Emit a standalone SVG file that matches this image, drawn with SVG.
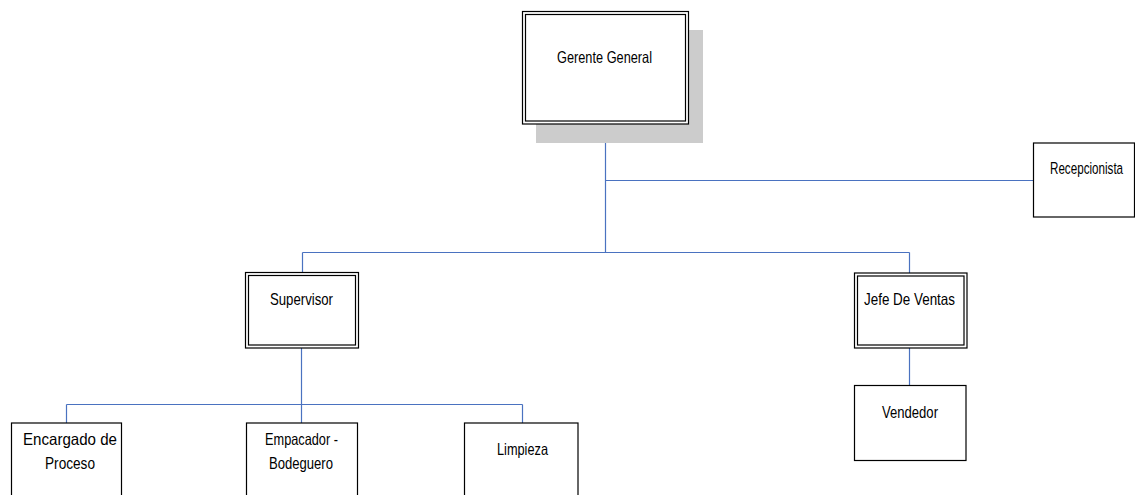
<svg xmlns="http://www.w3.org/2000/svg" width="1135" height="495" viewBox="0 0 1135 495">
<style>
.box{fill:#fff;stroke:#000;stroke-width:1.2}
.in{fill:none;stroke:#000;stroke-width:1.2}
.t{font-family:"Liberation Sans",Arial,sans-serif;font-size:16.5px;fill:#000}
.c{fill:none;stroke:#4a72c0;stroke-width:1.2}
</style>
<rect width="1135" height="495" fill="#fff"/>
<g id="connectors">
<path class="c" d="M605.5 124V252.5M605.5 180.5H1033M302.5 252.5H909.5M302.5 252.5V272M909.5 252.5V273M909.5 348V385M301.5 348V404.5M66.5 404.5H522.5M66.5 404.5V423M301.5 404.5V423M522.5 404.5V423"/>
</g>
<g id="gerente">
<rect x="536" y="30" width="167" height="113" fill="#cccccc"/>
<rect class="box" x="522.5" y="11.5" width="166" height="112.5"/>
<rect class="in" x="525.5" y="14.5" width="160" height="106.5"/>
<text class="t" x="557" y="63" textLength="95" lengthAdjust="spacingAndGlyphs">Gerente General</text>
</g>
<g id="recepcionista">
<rect class="box" x="1033.5" y="143" width="101" height="74"/>
<text class="t" transform="matrix(0.706 0 0 1 1050 174)" x="0" y="0">Recepcionista</text>
</g>
<g id="supervisor">
<rect class="box" x="245.5" y="272.5" width="113" height="75.5"/>
<rect class="in" x="248.5" y="275.5" width="107" height="69.5"/>
<text class="t" x="270" y="304.5" textLength="63" lengthAdjust="spacingAndGlyphs">Supervisor</text>
</g>
<g id="jefe">
<rect class="box" x="854.5" y="273" width="112.5" height="75"/>
<rect class="in" x="857.5" y="276" width="106.5" height="69"/>
<text class="t" x="864" y="305" textLength="91" lengthAdjust="spacingAndGlyphs">Jefe De Ventas</text>
</g>
<g id="vendedor">
<rect class="box" x="854.5" y="385.5" width="111.5" height="75"/>
<text class="t" x="882" y="418" textLength="56" lengthAdjust="spacingAndGlyphs">Vendedor</text>
</g>
<g id="encargado">
<rect class="box" x="11.5" y="423" width="110" height="80"/>
<text class="t" x="23" y="445" textLength="94" lengthAdjust="spacingAndGlyphs">Encargado de</text>
<text class="t" x="45" y="468.5" textLength="50" lengthAdjust="spacingAndGlyphs">Proceso</text>
</g>
<g id="empacador">
<rect class="box" x="246.5" y="423" width="111" height="80"/>
<text class="t" x="265" y="445" textLength="73" lengthAdjust="spacingAndGlyphs">Empacador -</text>
<text class="t" x="269" y="468.5" textLength="64" lengthAdjust="spacingAndGlyphs">Bodeguero</text>
</g>
<g id="limpieza">
<rect class="box" x="464.5" y="423" width="113.5" height="80"/>
<text class="t" x="497" y="455" textLength="51" lengthAdjust="spacingAndGlyphs">Limpieza</text>
</g>
</svg>
